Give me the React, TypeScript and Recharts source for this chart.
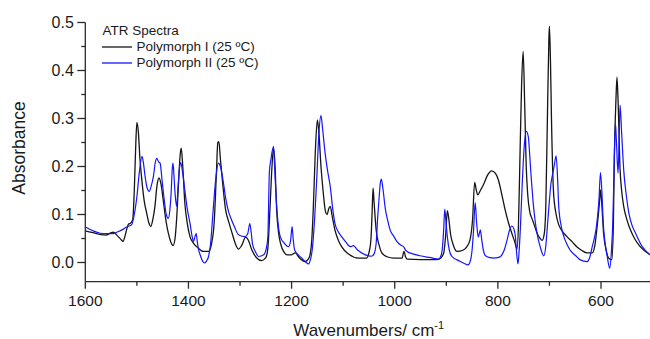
import React from 'react';
import { LineChart, Line, XAxis, YAxis, Legend, Label } from 'recharts';

const FONT = '"Liberation Sans", Arial, Helvetica, sans-serif';

// Polymorph I (25 ºC)
const wavenumbersI = [
  1600, 1585, 1570, 1560, 1550, 1546, 1538, 1530, 1527, 1523, 1520, 1516, 1512, 1508, 1505, 1502, 1500, 1497, 1494, 1491,
  1486, 1481, 1476, 1473, 1469, 1465, 1461, 1457, 1453, 1449, 1444, 1439, 1434, 1430, 1426, 1423, 1419, 1416, 1414, 1411,
  1407, 1402, 1397, 1390, 1381, 1371, 1361, 1355, 1350, 1346, 1343, 1341, 1338, 1333, 1328, 1322, 1315, 1310, 1303, 1297,
  1289, 1284, 1277, 1268, 1258, 1250, 1246, 1242, 1238, 1235, 1232, 1229, 1225, 1221, 1215, 1209, 1200, 1193, 1185, 1174,
  1166, 1161, 1158, 1154, 1150, 1147, 1143, 1139, 1134, 1131, 1128, 1125, 1121, 1116, 1110, 1103, 1090, 1070, 1055, 1049,
  1046, 1044, 1042, 1040, 1036, 1030, 1025, 1015, 1002, 986, 982, 979, 976, 950, 918, 910, 905, 901, 898, 895,
  892, 886, 879, 867, 860, 854, 849, 845, 842, 839, 834, 828, 820, 812, 805, 799, 792, 786, 780, 773,
  767, 763, 760, 757, 754, 751, 748, 745, 742, 738, 734, 730, 724, 718, 714, 710, 707, 704, 701, 700,
  698, 696, 692, 687, 682, 675, 666, 655, 647, 637, 627, 617, 612, 607, 603, 601, 599, 595, 590, 585,
  579, 576, 574, 571, 569, 567, 563, 560, 556, 550, 543, 535, 524, 505,
];
const absorbanceI = [
  0.066, 0.062, 0.058, 0.057, 0.062, 0.063, 0.056, 0.047, 0.044, 0.055, 0.068, 0.08, 0.082, 0.09, 0.15, 0.25, 0.292, 0.27, 0.215, 0.179,
  0.13, 0.103, 0.08, 0.075, 0.09, 0.117, 0.16, 0.176, 0.162, 0.131, 0.09, 0.061, 0.042, 0.035, 0.05, 0.089, 0.17, 0.225, 0.238, 0.2,
  0.124, 0.08, 0.054, 0.04, 0.03, 0.023, 0.023, 0.04, 0.085, 0.18, 0.25, 0.252, 0.215, 0.158, 0.11, 0.085, 0.06, 0.042, 0.028, 0.035,
  0.053, 0.047, 0.026, 0.01, 0.004, 0.01, 0.03, 0.11, 0.2, 0.238, 0.2, 0.11, 0.06, 0.038, 0.022, 0.016, 0.016, 0.02, 0.01, 0.002,
  0.01, 0.045, 0.11, 0.23, 0.297, 0.27, 0.2, 0.15, 0.105, 0.1, 0.112, 0.117, 0.095, 0.068, 0.048, 0.033, 0.018, 0.009, 0.009, 0.025,
  0.05, 0.1, 0.155, 0.125, 0.068, 0.035, 0.02, 0.012, 0.009, 0.009, 0.023, 0.012, 0.007, 0.006, 0.006, 0.01, 0.02, 0.06, 0.108, 0.09,
  0.061, 0.035, 0.023, 0.026, 0.033, 0.047, 0.09, 0.167, 0.152, 0.141, 0.15, 0.162, 0.182, 0.191, 0.186, 0.172, 0.14, 0.11, 0.085, 0.061,
  0.042, 0.028, 0.08, 0.228, 0.37, 0.44, 0.33, 0.2, 0.14, 0.105, 0.092, 0.08, 0.061, 0.05, 0.046, 0.06, 0.12, 0.297, 0.47, 0.492,
  0.42, 0.297, 0.145, 0.1, 0.079, 0.065, 0.054, 0.042, 0.033, 0.025, 0.02, 0.02, 0.035, 0.08, 0.125, 0.151, 0.13, 0.061, 0.025, 0.009,
  0.006, 0.08, 0.228, 0.34, 0.386, 0.34, 0.193, 0.15, 0.117, 0.09, 0.068, 0.05, 0.033, 0.016,
];

// Polymorph II (25 ºC)
const wavenumbersII = [
  1600, 1585, 1571, 1560, 1546, 1537, 1529, 1520, 1510, 1505, 1500, 1495, 1490, 1487, 1484, 1480, 1476, 1472, 1468, 1464,
  1461.5, 1458, 1455, 1451, 1447, 1443, 1439, 1436, 1434, 1431, 1430, 1428, 1426, 1423, 1420, 1417, 1415, 1411, 1407, 1402,
  1397, 1393, 1390, 1387, 1385, 1383, 1381, 1377, 1374, 1369, 1365, 1361, 1357, 1352, 1347, 1342, 1338, 1332, 1328, 1322,
  1319, 1311, 1303, 1290, 1285, 1281, 1278, 1276, 1270, 1264, 1254, 1248, 1246, 1243, 1240, 1235, 1233, 1230, 1226, 1222,
  1214, 1206, 1202, 1199, 1197, 1194, 1187, 1180, 1172, 1167, 1163, 1160, 1156, 1151, 1147, 1143, 1140, 1135, 1130, 1125,
  1120, 1116, 1110, 1103, 1095, 1086, 1080, 1072, 1057, 1045, 1040, 1036, 1033, 1031, 1028, 1026, 1023, 1018, 1013, 1009,
  1002, 996, 988, 983, 979, 976, 965, 951, 930, 915, 910, 908, 905, 903, 901, 898, 894, 889, 880, 873,
  865, 858, 853, 850, 847, 844, 841, 838, 836, 834, 831, 828, 824, 815, 808, 800, 795, 788, 782, 778,
  773, 769, 766, 764, 761, 759, 756, 753, 749, 745, 741, 738, 735.5, 732, 728, 723, 718, 711, 707, 704,
  700, 697, 694, 691, 687, 684, 682, 677, 672, 666, 660, 650, 641, 627, 622, 617, 612, 608, 604, 601,
  598, 596, 592, 589, 586, 583, 580, 577, 575, 572, 570, 567, 565, 563, 560, 556, 551, 546, 540, 533,
  520, 505,
];
const absorbanceII = [
  0.074, 0.066, 0.061, 0.06, 0.06, 0.064, 0.068, 0.074, 0.079, 0.1, 0.137, 0.19, 0.221, 0.205, 0.179, 0.155, 0.148, 0.16, 0.179, 0.21,
  0.217, 0.21, 0.207, 0.17, 0.131, 0.1, 0.092, 0.11, 0.137, 0.2, 0.207, 0.18, 0.145, 0.117, 0.16, 0.2, 0.208, 0.185, 0.151, 0.11,
  0.082, 0.055, 0.044, 0.055, 0.06, 0.045, 0.03, 0.015, 0.006, -0.001, 0.003, 0.0125, 0.04, 0.11, 0.175, 0.207, 0.2, 0.165, 0.135, 0.105,
  0.096, 0.075, 0.058, 0.054, 0.06, 0.081, 0.06, 0.04, 0.022, 0.0125, 0.016, 0.035, 0.054, 0.19, 0.215, 0.242, 0.2, 0.137, 0.08, 0.054,
  0.04, 0.033, 0.045, 0.075, 0.05, 0.026, 0.016, 0.009, 0.0, -0.003, 0.008, 0.026, 0.08, 0.179, 0.27, 0.306, 0.28, 0.228, 0.19, 0.158,
  0.11, 0.082, 0.065, 0.054, 0.043, 0.033, 0.035, 0.026, 0.016, 0.013, 0.018, 0.04, 0.095, 0.124, 0.165, 0.174, 0.155, 0.11, 0.085, 0.068,
  0.055, 0.044, 0.036, 0.033, 0.026, 0.023, 0.018, 0.014, 0.01, 0.007, 0.015, 0.026, 0.07, 0.111, 0.09, 0.054, 0.025, 0.0125, 0.006, 0.002,
  -0.002, -0.005, 0.005, 0.026, 0.07, 0.125, 0.08, 0.053, 0.06, 0.068, 0.045, 0.025, 0.014, 0.01, 0.009, 0.01, 0.0125, 0.025, 0.047, 0.065,
  0.076, 0.07, 0.054, 0.025, -0.003, 0.02, 0.08, 0.158, 0.24, 0.273, 0.262, 0.22, 0.179, 0.13, 0.089, 0.055, 0.033, 0.014, 0.035, 0.075,
  0.13, 0.165, 0.183, 0.2, 0.222, 0.17, 0.117, 0.075, 0.054, 0.038, 0.026, 0.015, 0.006, 0.002, 0.01, 0.033, 0.055, 0.082, 0.13, 0.1875,
  0.14, 0.089, 0.04, 0.02, 0.0, -0.012, 0.02, 0.089, 0.18, 0.29, 0.25, 0.186, 0.25, 0.328, 0.27, 0.193, 0.14, 0.103, 0.078, 0.061,
  0.033, 0.016,
];

const xTicks = [1600, 1500, 1400, 1300, 1200, 1100, 1000, 900, 800, 700, 600];
const xTickLabels = ['1600', '', '1400', '', '1200', '', '1000', '', '800', '', '600'];
const yTicks = [0, 0.05, 0.1, 0.15, 0.2, 0.25, 0.3, 0.35, 0.4, 0.45, 0.5];
const yTickLabels = ['0.0', '', '0.1', '', '0.2', '', '0.3', '', '0.4', '', '0.5'];

const legendTitle = 'ATR Spectra';
const seriesNames = ['Polymorph I (25 ºC)', 'Polymorph II (25 ºC)'];
const seriesColors = ['#151515', '#1515ff'];

const dataI = wavenumbersI.map((wn, i) => ({ wn, a: absorbanceI[i] }));
const dataII = wavenumbersII.map((wn, i) => ({ wn, a: absorbanceII[i] }));

const W = 650;
const H = 339;
const YAXIS_W = 85.3;
const XAXIS_H = 57.3;
const TOP = 22.5;
const PLOT_BOTTOM = H - XAXIS_H;
const AXIS_COLOR = '#2a2a2a';

const XTick = (props: any) => {
  const { x, index } = props;
  const label = xTickLabels[index] ?? '';
  const major = label !== '';
  return (
    <g>
      <line x1={x} x2={x} y1={PLOT_BOTTOM} y2={PLOT_BOTTOM + (major ? 7 : 4)} stroke={AXIS_COLOR} strokeWidth={1.3} />
      {major && (
        <text x={x} y={PLOT_BOTTOM + 24.5} textAnchor="middle" fontFamily={FONT} fontSize={15.5} fill="#1a1a1a">
          {label}
        </text>
      )}
    </g>
  );
};

const YTick = (props: any) => {
  const { y, index } = props;
  const label = yTickLabels[index] ?? '';
  const major = label !== '';
  return (
    <g>
      <line x1={YAXIS_W - (major ? 8 : 4)} x2={YAXIS_W} y1={y} y2={y} stroke={AXIS_COLOR} strokeWidth={1.3} />
      {major && (
        <text x={YAXIS_W - 11.5} y={y} dy="0.36em" textAnchor="end" fontFamily={FONT} fontSize={16} fill="#1a1a1a">
          {label}
        </text>
      )}
    </g>
  );
};

const XTitle = () => (
  <text x={(YAXIS_W + W) / 2 + 1} y={H - 3.5} textAnchor="middle" fontFamily={FONT} fontSize={17} fill="#1a1a1a">
    Wavenumbers/ cm
    <tspan dy={-7} fontSize={11}>-1</tspan>
  </text>
);

const YTitle = () => {
  const cx = 25;
  const cy = 148;
  return (
    <text
      x={cx}
      y={cy}
      transform={`rotate(-90, ${cx}, ${cy})`}
      textAnchor="middle"
      fontFamily={FONT}
      fontSize={17.5}
      fill="#1a1a1a"
    >
      Absorbance
    </text>
  );
};

const LegendContent = () => (
  <div style={{ fontFamily: FONT, fontSize: 13.5, lineHeight: '16px', color: '#1a1a1a', whiteSpace: 'nowrap' }}>
    <div style={{ paddingLeft: 1 }}>{legendTitle}</div>
    {seriesNames.map((name, i) => (
      <div key={name} style={{ display: 'flex', alignItems: 'center', height: 16 }}>
        <svg width={30} height={16} style={{ display: 'block' }}>
          <line x1={0} x2={30} y1={8} y2={8} stroke={seriesColors[i]} strokeWidth={1.3} />
        </svg>
        <span style={{ marginLeft: 5 }}>{name}</span>
      </div>
    ))}
  </div>
);

export default function App() {
  return (
    <div style={{ position: 'fixed', top: 0, left: 0, width: W, height: H, background: '#fff' }}>
      <LineChart width={W} height={H} margin={{ top: TOP, right: 0, bottom: 0, left: 0 }}>
        <XAxis
          type="number"
          dataKey="wn"
          domain={[505, 1600]}
          reversed
          ticks={xTicks}
          interval={0}
          tick={<XTick />}
          tickLine={false}
          axisLine={{ stroke: AXIS_COLOR, strokeWidth: 1.3 }}
          height={XAXIS_H}
        >
          <Label content={<XTitle />} />
        </XAxis>
        <YAxis
          type="number"
          dataKey="a"
          domain={[-0.04, 0.5]}
          ticks={yTicks}
          interval={0}
          tick={<YTick />}
          tickLine={false}
          axisLine={{ stroke: AXIS_COLOR, strokeWidth: 1.3 }}
          width={YAXIS_W}
        >
          <Label content={<YTitle />} />
        </YAxis>
        <Legend
          layout="horizontal"
          verticalAlign="middle"
          align="center"
          content={<LegendContent />}
          wrapperStyle={{ position: 'absolute', left: 101.5, top: 23, width: 'auto', height: 'auto' }}
        />
        <Line
          data={dataI}
          dataKey="a"
          name={seriesNames[0]}
          type="monotone"
          stroke={seriesColors[0]}
          strokeWidth={1.3}
          dot={false}
          activeDot={false}
          isAnimationActive={false}
        />
        <Line
          data={dataII}
          dataKey="a"
          name={seriesNames[1]}
          type="monotone"
          stroke={seriesColors[1]}
          strokeWidth={1.2}
          dot={false}
          activeDot={false}
          isAnimationActive={false}
        />
      </LineChart>
    </div>
  );
}
